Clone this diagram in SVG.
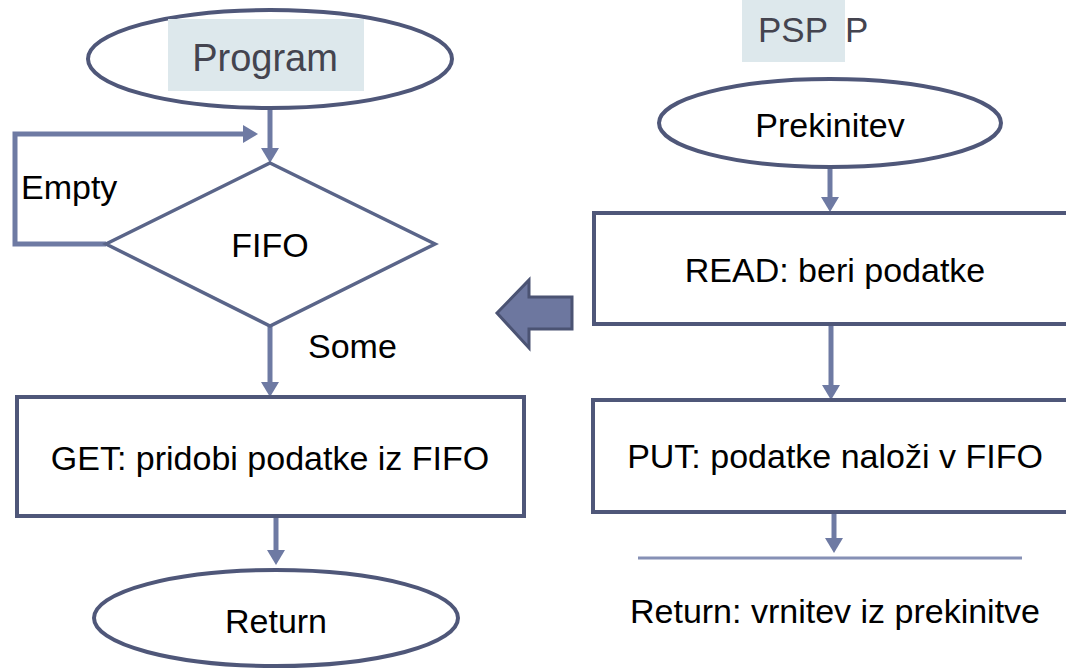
<svg xmlns="http://www.w3.org/2000/svg" width="1066" height="668" viewBox="0 0 1066 668">
<style>
.node{fill:#ffffff;stroke:#4f5779;stroke-width:4}
.dia{fill:#ffffff;stroke:#5a6589;stroke-width:3.5}
.conn{fill:none;stroke:#6e7aa3;stroke-width:5}
.t{font-family:"Liberation Sans",Arial,sans-serif;font-size:34px;fill:#000000}
.title{font-family:"Liberation Sans",Arial,sans-serif;fill:#44444f}
.lbl{fill:#dde8ec}
</style>
<defs>
<marker id="ah" markerUnits="userSpaceOnUse" markerWidth="15" markerHeight="18" viewBox="0 0 15 18" refX="5" refY="9" orient="auto">
<path d="M0,0 L15,9 L0,18 z" fill="#6e7aa3"/>
</marker>
</defs>
<rect width="1066" height="668" fill="#ffffff"/>

<g id="connectors">
<line class="conn" x1="270" y1="108" x2="270" y2="153" marker-end="url(#ah)"/>
<polyline class="conn" points="106,244 15,244 15,134 248,134" marker-end="url(#ah)"/>
<line class="conn" x1="270" y1="326" x2="270" y2="387" marker-end="url(#ah)"/>
<line class="conn" x1="276" y1="516" x2="276" y2="555" marker-end="url(#ah)"/>
<line class="conn" x1="830" y1="167" x2="830" y2="202" marker-end="url(#ah)"/>
<line class="conn" x1="831" y1="324" x2="831" y2="390" marker-end="url(#ah)"/>
<line class="conn" x1="834" y1="512" x2="834" y2="543" marker-end="url(#ah)"/>
<text class="t" x="21" y="199" font-size="32">Empty</text>
<text class="t" x="308" y="358" font-size="32">Some</text>
</g>

<g id="program">
<ellipse class="node" cx="270" cy="59" rx="182" ry="49"/>
<rect class="lbl" x="168" y="19" width="196" height="72"/>
<text class="title" x="265" y="71" font-size="38" text-anchor="middle">Program</text>
</g>

<g id="fifo">
<polygon class="dia" points="270,163 435,244 270,326 106,244"/>
<text class="t" x="270" y="257" font-size="32" text-anchor="middle">FIFO</text>
</g>

<g id="get">
<rect class="node" x="17" y="397" width="507" height="119"/>
<text class="t" x="270" y="470" font-size="35.5" text-anchor="middle">GET: pridobi podatke iz FIFO</text>
</g>

<g id="return">
<ellipse class="node" cx="276" cy="618" rx="182" ry="48"/>
<text class="t" x="276" y="633" font-size="34" text-anchor="middle">Return</text>
</g>

<g id="psp">
<rect class="lbl" x="742" y="0" width="103" height="62"/>
<text class="title" x="793" y="42" font-size="35" text-anchor="middle">PSP</text>
<text class="title" x="845" y="42" font-size="35">P</text>
</g>

<g id="prekinitev">
<ellipse class="node" cx="830" cy="123" rx="171" ry="44"/>
<text class="t" x="830" y="137" text-anchor="middle">Prekinitev</text>
</g>

<g id="read">
<rect class="node" x="594" y="213" width="500" height="111"/>
<text class="t" x="835" y="282" text-anchor="middle">READ: beri podatke</text>
</g>

<g id="put">
<rect class="node" x="593" y="400" width="500" height="112"/>
<text class="t" x="835" y="468" text-anchor="middle">PUT: podatke naloži v FIFO</text>
</g>

<g id="return-psp">
<line x1="638" y1="558" x2="1022" y2="558" stroke="#8690b5" stroke-width="3"/>
<text class="t" x="835" y="623" font-size="35.5" text-anchor="middle">Return: vrnitev iz prekinitve</text>
</g>

<g id="big-arrow">
<polygon points="497,313 529,280 529,297 572,297 572,329 529,329 529,348" fill="#6d779f" stroke="#4b5373" stroke-width="3" stroke-linejoin="miter"/>
</g>
</svg>
